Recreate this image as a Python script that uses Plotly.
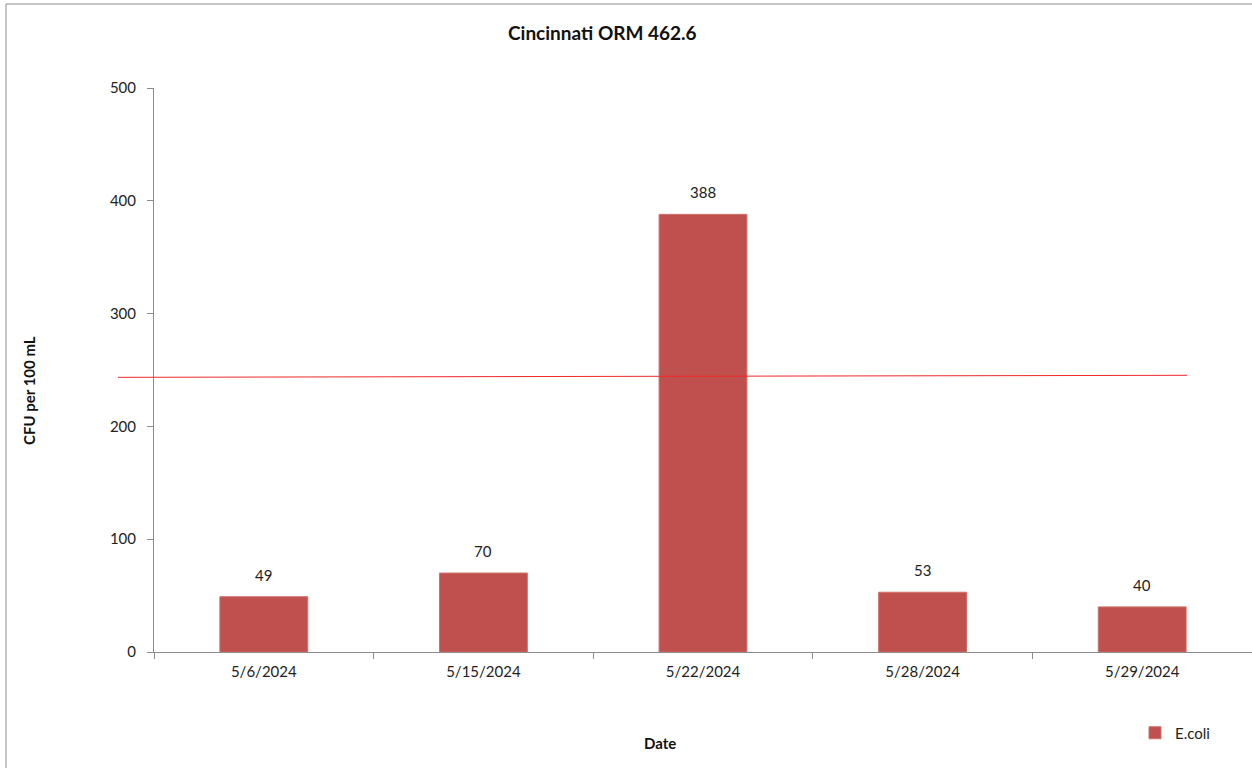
import plotly.graph_objects as go

# ---- data ----
dates = ["5/6/2024", "5/15/2024", "5/22/2024", "5/28/2024", "5/29/2024"]
ecoli = [49, 70, 388, 53, 40]
threshold_ends = [243.5, 245.3]   # red reference line (left, right), slightly sloped
y_ticks = [0, 100, 200, 300, 400, 500]

W, H = 1252, 768
L, R, T, B = 154, 0, 88, 116
pw = W - L - R
ph = H - T - B

def px(x):  # pixel x -> paper
    return (x - L) / pw

def py(y):  # pixel y -> paper
    return (H - B - y) / ph

FONT = "Lato, 'Liberation Sans', Arial, sans-serif"
BAR = "#c0504d"

fig = go.Figure()
fig.add_trace(go.Bar(
    x=dates, y=ecoli, name="E.coli",
    marker=dict(color=BAR, line=dict(color="#cf6f6c", width=1)),
    width=0.4,
))

# data labels
for d, v in zip(dates, ecoli):
    fig.add_annotation(x=d, y=v, text=str(v), showarrow=False, yshift=22,
                       font=dict(family=FONT, size=15, color="#222"))

# threshold line
fig.add_shape(type="line", xref="paper", yref="y",
              x0=px(118), x1=px(1187), y0=threshold_ends[0], y1=threshold_ends[1],
              line=dict(color="#f02828", width=1))

# outer frame (left and top edges visible)
fig.add_shape(type="line", xref="paper", yref="paper",
              x0=px(6), x1=px(6), y0=py(800), y1=py(4),
              line=dict(color="#8c8c8c", width=1), layer="below")
fig.add_shape(type="line", xref="paper", yref="paper",
              x0=px(6), x1=px(1300), y0=py(4), y1=py(4),
              line=dict(color="#8c8c8c", width=1), layer="below")

# title
fig.add_annotation(xref="paper", yref="paper", x=px(602), y=py(32), text="<b>Cincinnati ORM 462.6</b>",
                   showarrow=False, xanchor="center", yanchor="middle",
                   font=dict(family=FONT, size=19, color="#111"))
# y axis title
fig.add_annotation(xref="paper", yref="paper", x=px(29), y=py(391), text="<b>CFU per 100 mL</b>",
                   showarrow=False, textangle=-90, xanchor="center", yanchor="middle",
                   font=dict(family=FONT, size=15, color="#111"))
# x axis title
fig.add_annotation(xref="paper", yref="paper", x=px(660), y=py(743), text="<b>Date</b>",
                   showarrow=False, xanchor="center", yanchor="middle",
                   font=dict(family=FONT, size=15, color="#111"))

fig.update_layout(
    width=W, height=H,
    margin=dict(l=L, r=R, t=T, b=B, pad=0),
    paper_bgcolor="white", plot_bgcolor="white",
    showlegend=True,
    legend=dict(x=px(1135), y=py(733), xanchor="left", yanchor="middle",
                font=dict(family=FONT, size=15, color="#222"),
                bgcolor="rgba(0,0,0,0)", itemwidth=30),
    font=dict(family=FONT, size=15, color="#222"),
    bargap=0.6,
)
fig.update_xaxes(type="category", showline=True, linecolor="#8c8c8c", linewidth=1,
                 ticks="outside", ticklen=6, tickcolor="#8c8c8c", tickson="boundaries",
                 showgrid=False, zeroline=False, ticklabelstandoff=6,
                 tickfont=dict(family=FONT, size=15, color="#222"))
fig.update_yaxes(range=[0, 500], tickvals=y_ticks, showline=True, linecolor="#8c8c8c", linewidth=1,
                 ticks="outside", ticklen=6, tickcolor="#8c8c8c", showgrid=False, zeroline=False,
                 ticklabelstandoff=8,
                 tickfont=dict(family=FONT, size=15, color="#222"))

fig.write_html("out.html", config={"displayModeBar": False},
               post_script="document.body.style.margin='0';document.body.style.overflow='hidden';")
